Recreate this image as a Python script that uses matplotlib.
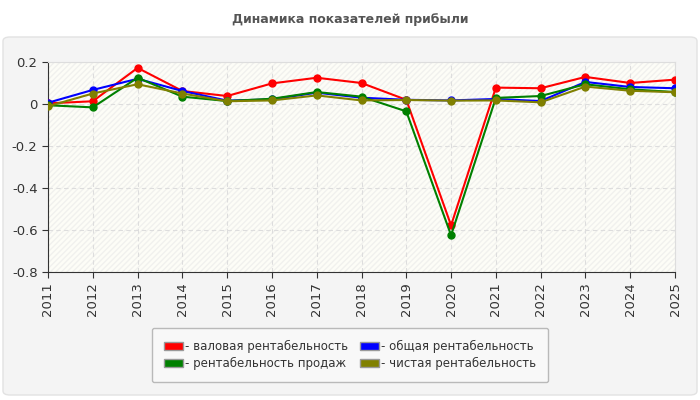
import matplotlib
matplotlib.use("Agg")
import matplotlib.pyplot as plt
from matplotlib.patches import FancyBboxPatch, Patch, Rectangle

years = [2011, 2012, 2013, 2014, 2015, 2016, 2017, 2018, 2019, 2020, 2021, 2022, 2023, 2024, 2025]
gross = [0.003, 0.013, 0.172, 0.062, 0.038, 0.098, 0.125, 0.100, 0.020, -0.578, 0.078, 0.075, 0.129, 0.100, 0.116]
total = [0.006, 0.067, 0.120, 0.062, 0.016, 0.022, 0.054, 0.030, 0.020, 0.017, 0.024, 0.014, 0.105, 0.081, 0.075]
sales = [-0.006, -0.016, 0.125, 0.035, 0.014, 0.025, 0.057, 0.035, -0.035, -0.625, 0.029, 0.038, 0.094, 0.070, 0.057]
net = [-0.011, 0.050, 0.094, 0.050, 0.013, 0.017, 0.041, 0.017, 0.019, 0.016, 0.017, 0.008, 0.083, 0.063, 0.056]

series = [
    (gross, "red", "- валовая рентабельность"),
    (total, "blue", "- общая рентабельность"),
    (sales, "green", "- рентабельность продаж"),
    (net, "olive", "- чистая рентабельность"),
]

fig = plt.figure(figsize=(7, 4), dpi=100)
fig.patch.set_facecolor("white")

# grey rounded panel behind the chart
panel = FancyBboxPatch((3 / 700, 5 / 400), 694 / 700, 358 / 400,
                       boxstyle="round,pad=0,rounding_size=0.01",
                       transform=fig.transFigure, facecolor="#f4f4f4",
                       edgecolor="#e2e2e2", linewidth=1, zorder=-10)
fig.patches.append(panel)

fig.text(0.5, 1 - 20 / 400, "Динамика показателей прибыли", ha="center", va="center",
         fontsize=9, fontweight="bold", color="#555555")

ax = fig.add_axes([48 / 700, 1 - 272 / 400, 627 / 700, 210 / 400])
ax.set_facecolor("#fdfdf7")
ax.add_patch(Rectangle((0, 0), 1, 1, transform=ax.transAxes, facecolor="none",
                       edgecolor="#f1f1ee", hatch="//////", linewidth=0, zorder=0))

for vals, col, lab in series:
    ax.plot(years, vals, color=col, linewidth=1.5, marker="o", markersize=5, zorder=3)

ax.set_xlim(2011, 2025)
ax.set_ylim(-0.8, 0.2)
ax.set_xticks(years)
ax.set_xticklabels([str(y) for y in years], rotation=90)
ax.set_yticks([-0.8, -0.6, -0.4, -0.2, 0, 0.2])
ax.set_yticklabels(["-0.8", "-0.6", "-0.4", "-0.2", "0", "0.2"])
ax.tick_params(labelsize=9.5, colors="#333333", length=4)
ax.grid(True, color="#dddddd", linestyle=(0, (4, 3)), linewidth=0.8)
ax.set_axisbelow(True)
for s in ["top", "right"]:
    ax.spines[s].set_color("#dddddd")
for s in ["left", "bottom"]:
    ax.spines[s].set_color("#333333")

handles = [Patch(facecolor=c, edgecolor="#999999", label=l) for _, c, l in series]
order = [0, 2, 1, 3]
leg = fig.legend([handles[i] for i in order], [series[i][2] for i in order],
                 ncol=2, loc="center", bbox_to_anchor=(350 / 700, 1 - 355 / 400),
                 fontsize=8.5, frameon=True, fancybox=True, handlelength=1.6,
                 handleheight=0.7, handletextpad=0.2, columnspacing=1.0,
                 labelspacing=0.35, borderpad=1.0, edgecolor="#aaaaaa")
leg.get_frame().set_facecolor("#fafafa")
for t in leg.get_texts():
    t.set_color("#333333")

fig.savefig("out.png", dpi=100)
